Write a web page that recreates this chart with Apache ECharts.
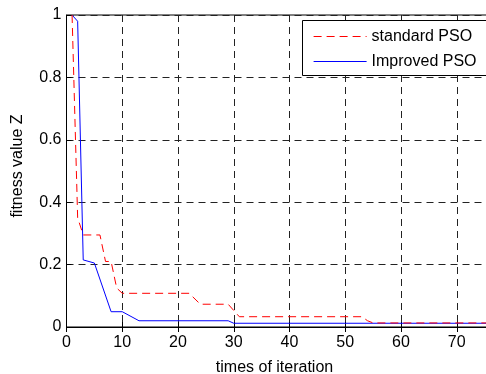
<!DOCTYPE html>
<html>
<head>
<meta charset="utf-8">
<script src="https://cdn.jsdelivr.net/npm/echarts@6/dist/echarts.min.js"></script>
<style>html,body{margin:0;padding:0;background:#fff}#c{width:486px;height:374px}</style>
</head>
<body>
<div id="c"></div>
<script>
var seriesNames = ['standard PSO', 'Improved PSO'];
var standardX = [1, 2, 3, 6, 7, 8, 9, 10, 22, 24, 29, 31, 53, 54, 55, 80];
var standardY = [1.0, 0.35, 0.295, 0.295, 0.21, 0.21, 0.125, 0.108, 0.108, 0.073, 0.073, 0.033, 0.033, 0.02, 0.013, 0.013];
var improvedX = [1, 2, 3, 5, 8, 10, 13, 29, 30, 80];
var improvedY = [1.0, 0.98, 0.215, 0.205, 0.049, 0.049, 0.02, 0.02, 0.012, 0.012];
var xTicks = [0, 10, 20, 30, 40, 50, 60, 70, 80];
var yTicks = [0, 0.2, 0.4, 0.6, 0.8, 1];

function pairs(xs, ys) { return xs.map(function (x, i) { return [x, ys[i]]; }); }

var chart = echarts.init(document.getElementById('c'), null, { renderer: 'canvas' });
var font = 'Liberation Sans, Arial, sans-serif';
var gridLine = { show: true, lineStyle: { color: '#222', type: [7, 5], width: 1 } };
chart.setOption({
  animation: false,
  backgroundColor: '#fff',
  textStyle: { fontFamily: font },
  grid: { left: 66.5, top: 15, width: 446, bottom: 47, outerBoundsMode: 'none', containLabel: false,
    show: true, borderColor: '#000', borderWidth: 1, backgroundColor: 'transparent' },
  graphic: [{
    type: 'rect', left: 302, top: 20, z: 10,
    shape: { x: 0, y: 0, width: 220, height: 55 },
    style: { fill: '#fff', stroke: '#000', lineWidth: 1 }
  }],
  legend: {
    left: 302, top: 20.5, orient: 'vertical', z: 20,
    backgroundColor: 'transparent', borderWidth: 0,
    padding: [8, 10, 6, 11], itemGap: 9, itemWidth: 53, itemHeight: 10,
    itemStyle: { opacity: 0 },
    textStyle: { fontSize: 16, lineHeight: 16, color: '#000', fontFamily: font },
    data: [
      { name: seriesNames[0], lineStyle: { color: '#ff0000', width: 1, type: [8, 5] } },
      { name: seriesNames[1], lineStyle: { color: '#0000ff', width: 1.2, type: 'solid' } }
    ]
  },
  xAxis: [{
    type: 'value', min: 0, max: 80, interval: 10,
    name: 'times of iteration', nameLocation: 'middle', nameGap: 33,
    nameTextStyle: { fontSize: 16, color: '#000', fontFamily: font, padding: [0, 0, 0, -30] },
    axisLine: { show: true, onZero: false, lineStyle: { color: '#000' } },
    axisTick: { show: true, inside: true, length: 5, lineStyle: { color: '#000' } },
    axisLabel: { fontSize: 16, color: '#000', margin: 8, fontFamily: font },
    splitLine: gridLine
  }, {
    type: 'value', position: 'top', min: 0, max: 80, interval: 10,
    axisLine: { show: true, lineStyle: { color: '#000' } },
    axisTick: { show: true, inside: true, length: 5, lineStyle: { color: '#000' } },
    axisLabel: { show: false }, splitLine: { show: false }
  }],
  yAxis: {
    type: 'value', min: 0, max: 1, interval: 0.2,
    name: 'fitness value Z', nameLocation: 'middle', nameGap: 41,
    nameTextStyle: { fontSize: 16, color: '#000', fontFamily: font, padding: [0, 0, 0, 10] },
    axisLine: { show: true, onZero: false, lineStyle: { color: '#000' } },
    axisTick: { show: true, inside: true, length: 5, lineStyle: { color: '#000' } },
    axisLabel: { fontSize: 16, color: '#000', margin: 5, fontFamily: font,
      formatter: function (v) { return String(Math.round(v * 10) / 10); } },
    splitLine: gridLine
  },
  series: [{
    name: seriesNames[0], type: 'line', symbol: 'none', xAxisIndex: 0,
    data: pairs(standardX, standardY),
    lineStyle: { color: '#ff0000', type: [8, 5], width: 1 },
    itemStyle: { color: '#ff0000' }, z: 3
  }, {
    name: seriesNames[1], type: 'line', symbol: 'none', xAxisIndex: 0,
    data: pairs(improvedX, improvedY),
    lineStyle: { color: '#0000ff', width: 1 },
    itemStyle: { color: '#0000ff' }, z: 2
  }]
});
</script>
</body>
</html>
